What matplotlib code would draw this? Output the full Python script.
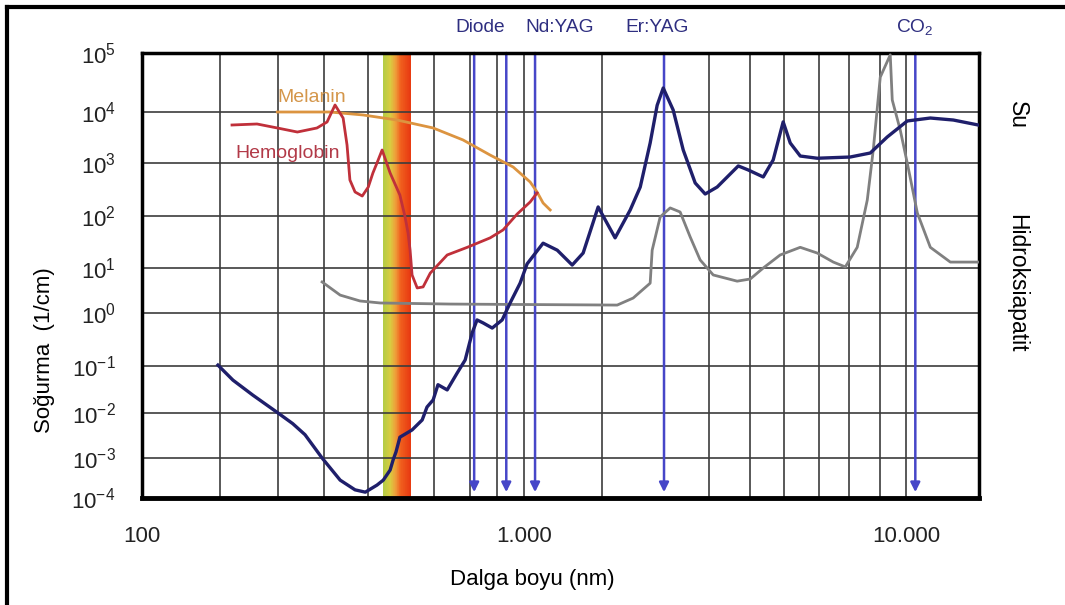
import numpy as np
import matplotlib
matplotlib.use("Agg")
import matplotlib.pyplot as plt
from matplotlib.colors import LinearSegmentedColormap
from matplotlib.ticker import FixedLocator, NullFormatter, NullLocator
from matplotlib.lines import Line2D

plt.rcParams['font.family'] = ['Liberation Sans', 'DejaVu Sans']
plt.rcParams['mathtext.fontset'] = 'custom'
plt.rcParams['mathtext.rm'] = 'Liberation Sans'
plt.rcParams['mathtext.it'] = 'Liberation Sans:italic'
plt.rcParams['mathtext.bf'] = 'Liberation Sans:bold'

# ---------------- data ----------------
water_wl = [158, 173, 195, 227, 248, 267, 296, 330, 361, 384, 412, 428, 446, 454, 462, 473, 509, 541,
            557, 578, 595, 629, 668, 701, 731, 753, 781, 825, 876, 919, 976, 1018, 1121,
            1221, 1336, 1427, 1562, 1730, 1895, 2013, 2137, 2229, 2312, 2455, 2608, 2803,
            2977, 3200, 3634, 3857, 4224, 4485, 4763, 4970, 5279, 5848, 7132, 8050, 8918,
            10060, 11560, 13280, 15430]
water_abs = [0.104, 0.050, 0.024, 0.010, 5.8e-3, 3.3e-3, 1.0e-3, 2.8e-4, 1.6e-4, 1.4e-4, 2.1e-4, 2.8e-4, 5.0e-4,
             8.9e-4, 1.36e-3, 2.9e-3, 4.2e-3, 7.0e-3, 0.0134, 0.019, 0.040, 0.031, 0.071,
             0.13, 0.42, 0.74, 0.65, 0.52, 0.74, 1.67, 4.6, 12, 30,
             22, 11.4, 19.4, 148, 38, 130, 352, 2470, 13000, 25500,
             10800, 1800, 420, 260, 352, 880, 740, 545, 1150, 6400,
             2470, 1370, 1240, 1310, 1570, 3240, 6670, 7620, 6960, 5560]

hap_wl = [296, 330, 372, 420, 640, 1752, 1929, 2137, 2163, 2270, 2411, 2560, 2720, 2888,
          3125, 3610, 3906, 4224, 4677, 5279, 5848, 6442, 6925, 7441, 7906, 8196, 8550,
          9080, 9190, 9643, 10060, 10690, 11560, 13040, 15430]
hap_abs = [4.9, 2.5, 1.85, 1.67, 1.58, 1.5, 2.15, 4.6, 22, 96, 142, 119, 39.5, 14.3,
           7.0, 5.1, 5.7, 10, 17.8, 25, 19.4, 13, 10.5, 25, 200, 1800, 39000,
           93000, 16000, 4440, 1000, 114, 25, 13, 13]

mel_wl = [226, 310, 379, 465, 578, 692, 815, 936, 1037, 1081, 1121, 1170]
mel_abs = [10000, 10000, 8740, 6960, 4860, 2830, 1430, 840, 438, 284, 176, 130]

hb_wl = [172, 200, 226, 255, 287, 305, 320, 336, 344, 350, 361, 377, 391, 402, 412, 425,
         446, 473, 488, 497, 503, 509, 525, 544, 568, 629, 710, 815, 881, 959, 1037, 1081]
hb_abs = [5560, 5820, 4860, 4050, 4860, 6370, 13150, 7600, 2250, 478, 284, 238, 352, 647,
          1000, 1800, 647, 249, 96, 47, 22, 7, 3.6, 3.8, 7.7, 17.8, 25, 38, 54, 109, 184, 272]

laser_wl = [740, 898, 1068, 2323, 10560]
laser_names = ["Diode", "Nd:YAG", "Er:YAG", "CO$_2$"]

band_lo, band_hi = 428, 503

xtick_vals = [100, 1000, 10000]
xtick_labels = ["100", "1.000", "10.000"]
grid_x = [160, 227, 300, 390, 580, 720, 850, 1600, 3050, 3900, 4800, 5900, 7100, 8550]
ytick_vals = [10.0 ** k for k in range(-4, 6)]
ytick_labels = [r"$10^{%d}$" % k for k in range(-4, 6)]

# ---------------- y scale (decades unevenly spaced as in the original) ----------------
dec_exp = np.array([-10, -4, -3, -2, -1, 0, 1, 2, 3, 4, 5, 11], float)
dec_pos = np.array([-300, 0, 40, 85, 132, 185, 230, 282, 335, 386, 445, 745], float)


def fwd(v):
    v = np.asarray(v, float)
    return np.interp(np.log10(np.clip(v, 1e-30, None)), dec_exp, dec_pos)


def inv(p):
    return 10.0 ** np.interp(np.asarray(p, float), dec_pos, dec_exp)


W, H = 1065, 605
fig = plt.figure(figsize=(W / 100, H / 100), dpi=100)
ax = fig.add_axes([142 / W, (H - 498) / H, 837 / W, 445 / H])
ax.set_xscale('log')
ax.set_yscale('function', functions=(fwd, inv))
ax.set_xlim(100, 15500)
ax.set_ylim(1e-4, 1e5)
ax.set_axisbelow(True)

# visible band
cmap = LinearSegmentedColormap.from_list(
    'vis', [(0, '#b5cc45'), (0.25, '#d8cc40'), (0.45, '#eea03a'), (0.65, '#f0601e'), (1, '#e83c12')])
edges = np.geomspace(band_lo, band_hi, 41)
for i in range(40):
    ax.axvspan(edges[i], edges[i + 1] * 1.003, color=cmap(i / 39), lw=0, zorder=0.3)

# ticks and grid
ax.xaxis.set_major_locator(FixedLocator(xtick_vals))
ax.set_xticklabels(xtick_labels)
ax.xaxis.set_minor_locator(FixedLocator(grid_x))
ax.xaxis.set_minor_formatter(NullFormatter())
ax.yaxis.set_major_locator(FixedLocator(ytick_vals))
ax.set_yticklabels(ytick_labels)
ax.yaxis.set_minor_locator(NullLocator())
ax.grid(True, which='both', axis='x', color='#3c3c3c', lw=1.2)
ax.grid(True, which='major', axis='y', color='#3c3c3c', lw=1.2)
ax.tick_params(axis='x', which='both', length=0, pad=20, labelsize=16, colors='#222222')
ax.tick_params(axis='y', which='both', length=0, pad=19, labelsize=16, colors='#222222')
for s in ax.spines.values():
    s.set_linewidth(2.5)
    s.set_color('black')
ax.spines['bottom'].set_linewidth(3.5)

# laser arrows
for x in laser_wl:
    ax.annotate('', xy=(x, 1.4e-4), xytext=(x, 1e5),
                arrowprops=dict(arrowstyle='-|>', color='#4646c8', lw=1.8,
                                mutation_scale=14, shrinkA=0, shrinkB=0),
                zorder=2.5, annotation_clip=False)

# curves
ax.plot(hap_wl, hap_abs, color='#808080', lw=2.0, zorder=3)
ax.plot(mel_wl, mel_abs, color='#dc9440', lw=2.0, zorder=3)
ax.plot(hb_wl, hb_abs, color='#c0303a', lw=2.0, zorder=3.2)
ax.plot(water_wl, water_abs, color='#1f1f6b', lw=2.4, zorder=3.5)


def ftxt(px, py, s, **kw):
    fig.text(px / W, 1 - py / H, s, ha='center', va='center', **kw)


# labels
ftxt(312, 98, "Melanin", fontsize=14, color='#d4964a')
ftxt(288, 153, "Hemoglobin", fontsize=14, color='#b23a48')
lab_col = '#2e2e80'
ftxt(480, 27, laser_names[0], fontsize=13.8, color=lab_col)
ftxt(560, 27, laser_names[1], fontsize=13.8, color=lab_col)
ftxt(657, 27, laser_names[2], fontsize=13.8, color=lab_col)
ftxt(915, 27, laser_names[3], fontsize=13.8, color=lab_col)
ftxt(1017, 115, "Su", fontsize=16.5, rotation=270)
ftxt(1017, 283, "Hidroksiapatit", fontsize=16.5, rotation=270)
ftxt(45, 350, "Soğurma  (1/cm)", fontsize=16, rotation=90)
ftxt(532, 580, "Dalga boyu (nm)", fontsize=16)

# outer frame
fig.add_artist(Line2D([7 / W, 1063 / W], [1 - 7 / H, 1 - 7 / H], color='black', lw=3,
                      transform=fig.transFigure))
fig.add_artist(Line2D([7 / W, 7 / W], [0, 1 - 7 / H], color='black', lw=3,
                      transform=fig.transFigure))

fig.savefig("out.png", dpi=100)
